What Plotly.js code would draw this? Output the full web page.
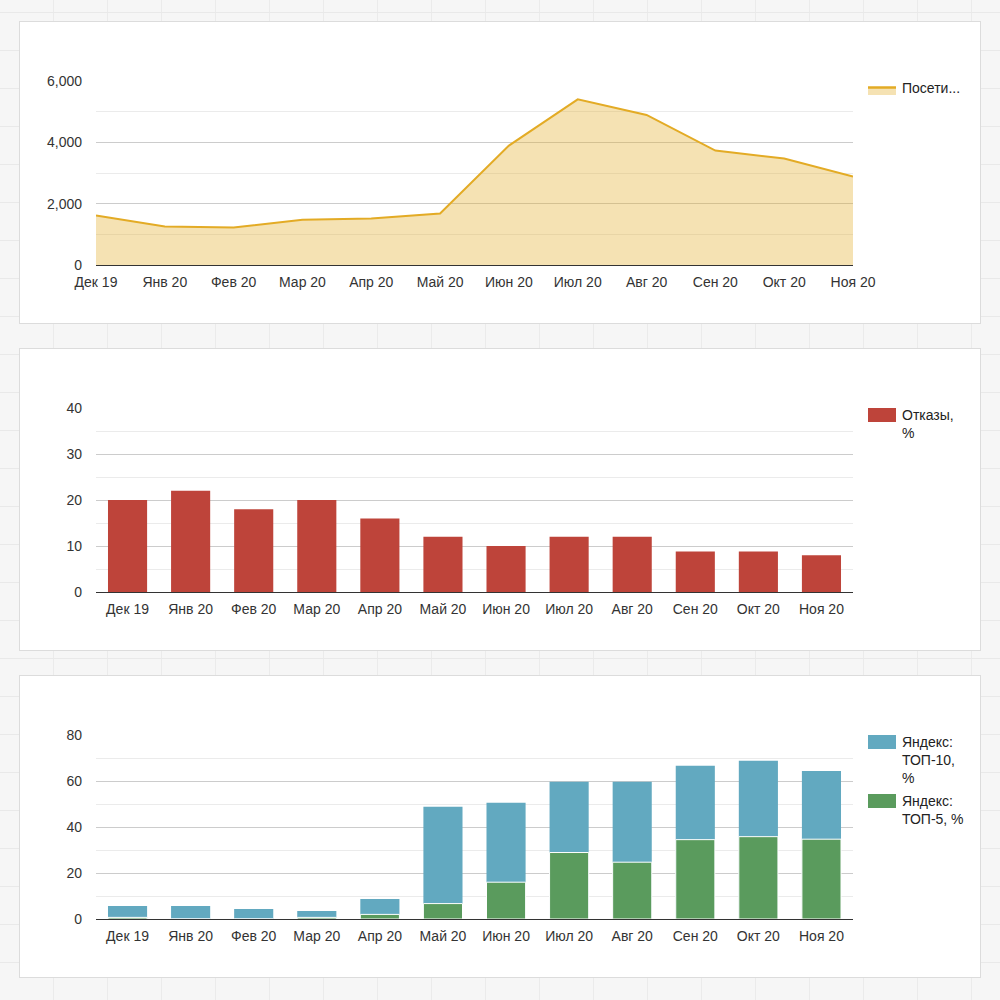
<!DOCTYPE html>
<html>
<head>
<meta charset="utf-8">
<script src="https://cdn.plot.ly/plotly-3.0.1.min.js"></script>
<style>
  html, body { margin: 0; padding: 0; }
  body {
    width: 1000px; height: 1000px; position: relative; overflow: hidden;
    background-color: #f6f6f6;
    background-image:
      repeating-linear-gradient(0deg, transparent 0 37px, #e9e9e9 37px 38px),
      repeating-linear-gradient(90deg, transparent 0 53px, #ebebeb 53px 54px);
  }
  .panel {
    position: absolute; left: 20px; width: 960px; height: 301px;
    background: #fff; box-shadow: 0 0 0 1px #dcdcdc;
  }
</style>
</head>
<body>
<div id="c1" class="panel" style="top:22px"></div>
<div id="c2" class="panel" style="top:349px"></div>
<div id="c3" class="panel" style="top:676px"></div>
<script>
// ---- data ----
const months = ["Дек 19", "Янв 20", "Фев 20", "Мар 20", "Апр 20", "Май 20", "Июн 20", "Июл 20", "Авг 20", "Сен 20", "Окт 20", "Ноя 20"];
const visitors = [1616, 1258, 1226, 1475, 1518, 1681, 3894, 5401, 4892, 3731, 3471, 2885];
const bounces = [20, 22, 18, 20, 16, 12, 10, 12, 12, 8.8, 8.8, 8];
const top10 = [5.7, 5.7, 4.4, 3.5, 8.7, 48.8, 50.5, 59.7, 59.7, 66.6, 68.8, 64.4];
const top5 = [0.7, 0, 0, 0.7, 2.0, 6.7, 16.0, 28.9, 24.7, 34.5, 35.8, 34.7];
const visitorsName = "Посети...";
const bouncesName = "Отказы,<br>%";
const top10Name = "Яндекс:<br>ТОП-10,<br>%";
const top5Name = "Яндекс:<br>ТОП-5, %";

// ---- style ----
const FONT = '"Liberation Sans", Arial, sans-serif';
const W = 960, H = 301;
const ML = 76, MR = 127, MT = 59, MB = 58;
function px(x) { return (x - ML) / (W - ML - MR); }          // panel x px -> paper
function py(y) { return (H - MB - y) / (H - MT - MB); }      // panel y px -> paper

function baseLayout(yRange, dtick, minorDtick, tickformat) {
  return {
    width: W, height: H,
    margin: { l: ML, r: MR, t: MT, b: MB, pad: 0 },
    paper_bgcolor: 'rgba(0,0,0,0)',
    plot_bgcolor: 'rgba(0,0,0,0)',
    font: { family: FONT, size: 14, color: '#333' },
    showlegend: false,
    xaxis: {
      type: 'category',
      showgrid: false, zeroline: false,
      showline: true, linecolor: '#333', linewidth: 1,
      ticks: '', tickmode: 'array', tickvals: months, ticktext: months,
      ticklabelstandoff: 4,
      tickfont: { family: FONT, size: 14, color: '#333' },
      fixedrange: true
    },
    yaxis: {
      range: yRange, dtick: dtick, tick0: 0,
      tickformat: tickformat,
      showgrid: true, gridcolor: '#cccccc', gridwidth: 1,
      zeroline: false, showline: false, ticks: '',
      ticklabelstandoff: 13,
      tickfont: { family: FONT, size: 14, color: '#333' },
      minor: { dtick: minorDtick, showgrid: true, gridcolor: '#ebebeb', gridwidth: 1, ticks: '' },
      fixedrange: true
    },
    shapes: [], annotations: []
  };
}

function legendText(text, x, yTop) {
  return {
    xref: 'paper', yref: 'paper', x: px(x), y: py(yTop),
    xanchor: 'left', yanchor: 'top', align: 'left',
    showarrow: false, text: text, borderpad: 0,
    font: { family: FONT, size: 14, color: '#222' }
  };
}
function legendRect(x0, y0, x1, y1, color) {
  return { type: 'rect', xref: 'paper', yref: 'paper',
           x0: px(x0), x1: px(x1), y0: py(y1), y1: py(y0),
           fillcolor: color, line: { width: 0 }, layer: 'above' };
}

const cfg = { staticPlot: true, displayModeBar: false };

// ---- Chart 1: visitors area ----
const L1 = baseLayout([0, 6000], 2000, 1000, ',d');
L1.xaxis.range = [0, 11];
L1.shapes.push(legendRect(848, 66, 876, 73, 'rgba(227,171,37,0.35)'));
L1.shapes.push({ type: 'line', xref: 'paper', yref: 'paper',
  x0: px(848), x1: px(876), y0: py(65.5), y1: py(65.5),
  line: { color: '#e3ab25', width: 2.5 } });
L1.annotations.push(legendText(visitorsName, 881, 57));
Plotly.newPlot('c1', [{
  type: 'scatter', mode: 'lines', x: months, y: visitors, name: visitorsName,
  line: { color: '#e3ab25', width: 2 },
  fill: 'tozeroy', fillcolor: 'rgba(227,171,37,0.35)'
}], L1, cfg);

// ---- Chart 2: bounces bars ----
const L2 = baseLayout([0, 40], 10, 5, 'd');
L2.bargap = 0.38;
L2.shapes.push(legendRect(848, 59, 876, 73, '#be443a'));
L2.annotations.push(legendText(bouncesName, 881, 57));
Plotly.newPlot('c2', [{
  type: 'bar', x: months, y: bounces, name: bouncesName,
  marker: { color: '#be443a', line: { width: 0 } }
}], L2, cfg);

// ---- Chart 3: Yandex top positions ----
const L3 = baseLayout([0, 80], 20, 10, 'd');
L3.bargap = 0.38;
L3.barmode = 'overlay';
L3.shapes.push(legendRect(848, 59, 876, 73, '#62a9c0'));
L3.shapes.push(legendRect(848, 118, 876, 132, '#5a9b5d'));
L3.annotations.push(legendText(top10Name, 881, 57));
L3.annotations.push(legendText(top5Name, 881, 116));
Plotly.newPlot('c3', [
  { type: 'bar', x: months, y: top10, name: top10Name,
    marker: { color: '#62a9c0', line: { width: 0 } } },
  { type: 'bar', x: months, y: top5, name: top5Name,
    marker: { color: '#5a9b5d', line: { color: '#ffffff', width: 1 } } }
], L3, cfg);
</script>
</body>
</html>
